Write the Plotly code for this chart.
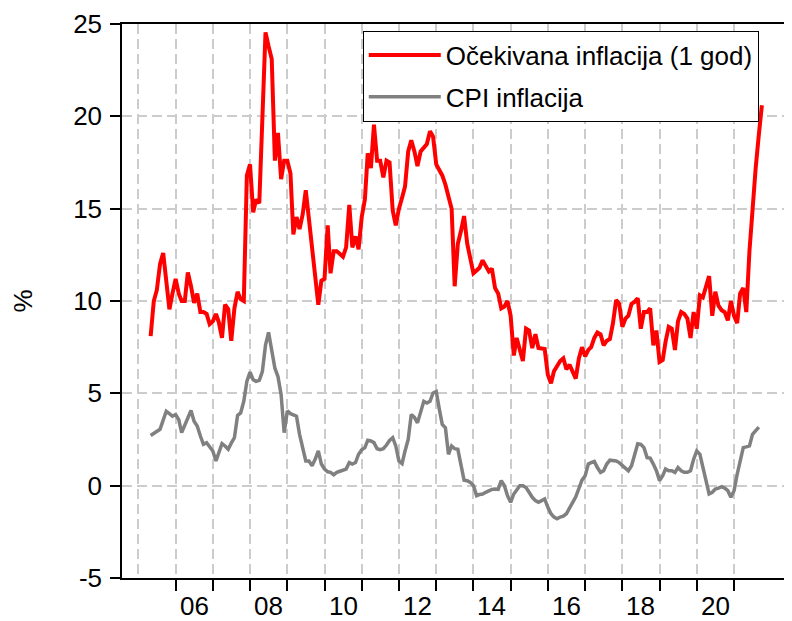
import pandas as pd
import plotly.graph_objects as go

start_month = "2005-05-01"

expected_infl = [
    8.1, 10.0, 10.6, 12.0, 12.6, 11.2, 9.55, 10.4,
    11.2, 10.4, 10.0, 10.0, 11.55, 10.8, 9.9, 10.4, 9.4, 9.4, 9.3, 8.75,
    8.9, 9.3, 8.85, 8.0, 9.8, 9.55, 7.85, 9.6, 10.5, 10.1, 10.0, 16.8,
    17.4, 14.8, 15.5, 15.3, 20.1, 24.55, 23.8, 23.1, 17.6, 19.1, 16.6, 17.6,
    17.6, 16.9, 13.6, 14.55, 13.9, 14.7, 16.0, 14.4, 12.8, 11.0, 9.8, 11.1,
    11.2, 14.1, 11.5, 12.7, 12.7, 12.55, 12.4, 12.9, 15.2, 12.9, 13.5, 12.8,
    14.55, 15.5, 18.0, 17.2, 19.55, 17.6, 17.6, 16.7, 17.6, 17.5, 14.9, 14.1,
    15.0, 15.6, 16.2, 18.1, 18.7, 18.1, 17.3, 18.1, 18.3, 18.5, 19.2, 18.9,
    17.4, 17.05, 16.8, 16.3, 15.6, 15.0, 10.8, 13.1, 13.8, 14.6, 13.1, 12.4,
    11.5, 11.65, 11.8, 12.2, 11.95, 11.6, 11.75, 10.7, 10.4, 9.6, 9.7, 10.0,
    9.2, 7.05, 8.0, 7.45, 6.75, 8.5, 8.4, 7.45, 8.2, 7.45, 7.45, 7.4,
    6.0, 5.55, 6.2, 6.45, 6.75, 6.9, 6.3, 6.55, 6.2, 5.8, 6.9, 7.5,
    7.0, 7.35, 7.5, 8.0, 8.3, 8.2, 7.6, 7.85, 7.95, 8.8, 10.05, 9.85,
    8.6, 9.05, 9.2, 9.85, 9.95, 10.15, 8.5, 9.4, 9.4, 9.6, 7.6, 8.4,
    6.7, 6.8, 7.8, 8.6, 8.5, 7.35, 8.9, 9.4, 9.3, 9.05, 8.0, 9.4,
    8.5, 10.3, 10.2, 10.7, 11.35, 9.2, 10.5, 9.75, 9.5, 9.4, 8.95, 10.0,
    9.2, 8.8, 10.4, 10.7, 9.4, 12.7, 15.2, 17.2, 19.0, 20.6,
]

cpi_infl = [
    2.72, 2.85, 2.95, 3.05, 3.55, 4.03, 3.9, 3.76,
    3.85, 3.58, 2.87, 3.3, 3.76, 4.07, 3.49, 3.23, 2.69, 2.24, 2.33, 2.1,
    1.88, 1.34, 1.79, 2.28, 2.15, 1.97, 2.3, 2.6, 3.8, 3.94, 4.57, 5.65,
    6.15, 5.74, 5.65, 5.7, 6.18, 7.62, 8.3, 7.44, 6.36, 5.91, 4.93, 2.87,
    4.05, 3.9, 3.85, 3.76, 2.78, 2.06, 1.34, 1.34, 1.08, 1.43, 1.88, 1.17,
    0.9, 0.75, 0.72, 0.59, 0.72, 0.78, 0.84, 0.9, 1.25, 1.17, 1.25, 1.7,
    1.95, 2.06, 2.46, 2.42, 2.33, 2.0, 1.95, 2.0, 2.2, 2.45, 2.6, 2.15,
    1.34, 1.2, 1.88, 2.51, 3.85, 3.7, 3.4, 4.03, 4.57, 4.48, 4.57, 5.02,
    5.1, 4.12, 3.32, 3.14, 1.7, 2.15, 2.0, 1.97, 1.17, 0.3, 0.27, 0.18,
    0.0, -0.54, -0.48, -0.45, -0.36, -0.27, -0.2, -0.18, -0.2, 0.27, 0.0, -0.54,
    -0.9, -0.45, -0.2, 0.0, 0.0, -0.1, -0.36, -0.63, -0.81, -0.9, -0.81, -0.72,
    -1.17, -1.52, -1.7, -1.79, -1.7, -1.65, -1.52, -1.17, -0.9, -0.6, -0.2, 0.3,
    0.54, 1.17, 1.25, 1.31, 0.98, 0.72, 0.81, 1.17, 1.38, 1.36, 1.34, 1.25,
    1.08, 0.9, 0.81, 1.08, 1.61, 2.27, 2.24, 2.06, 1.52, 1.49, 1.17, 0.81,
    0.27, 0.54, 0.9, 0.81, 0.81, 0.72, 0.98, 0.81, 0.72, 0.72, 0.81, 1.43,
    1.88, 1.7, 1.0, 0.2, -0.45, -0.36, -0.18, -0.13, -0.05, -0.13, -0.27, -0.63,
    -0.27, 0.63, 1.4, 2.06, 2.1, 2.15, 2.78, 3.0, 3.17,
]

series_names = ["Očekivana inflacija (1 god)", "CPI inflacija"]
grid_years = list(range(2005, 2022))
tick_years = list(range(2006, 2022))
label_years = list(range(2006, 2021, 2))
label_texts = ["06", "08", "10", "12", "14", "16", "18", "20"]
y_ticks = [-5, 0, 5, 10, 15, 20, 25]
y_tick_texts = ["-5", "0", "5", "10", "15", "20", "25"]

dates_exp = pd.date_range(start_month, periods=len(expected_infl), freq="MS")
dates_cpi = pd.date_range(start_month, periods=len(cpi_infl), freq="MS")

FONT = "Liberation Sans, Arial, sans-serif"
FS = 26
GRID = "#cccccc"
DASH = "10px,5px"

fig = go.Figure()
fig.add_trace(go.Scatter(x=dates_exp, y=expected_infl, mode="lines",
                         name=series_names[0], legendgroup="a",
                         line=dict(color="#ff0000", width=4)))
fig.add_trace(go.Scatter(x=dates_cpi, y=cpi_infl, mode="lines",
                         name=series_names[1], legendgroup="b",
                         line=dict(color="#808080", width=3.5)))

annotations = [
    dict(x=f"{y}-07-02", y=0, xref="x", yref="paper", text=t, showarrow=False,
         yanchor="middle", yshift=-28, borderpad=0,
         font=dict(family=FONT, size=FS, color="black"))
    for y, t in zip(label_years, label_texts)
]

# page body has an 8px default margin, so the figure is sized to fit the window
fig.update_layout(
    width=784, height=613,
    margin=dict(l=114, r=1, t=12, b=43),
    paper_bgcolor="white", plot_bgcolor="white",
    font=dict(family=FONT, size=FS, color="black"),
    showlegend=True,
    legend=dict(x=0.361, y=0.988, xanchor="left", yanchor="top",
                bgcolor="white", bordercolor="black", borderwidth=1,
                font=dict(family=FONT, size=FS, color="black"),
                itemwidth=72,
                traceorder="grouped", tracegroupgap=5),
    annotations=annotations,
    xaxis=dict(
        type="date",
        range=["2004-07-24", "2022-06-24"],
        tickmode="array",
        tickvals=[f"{y}-01-01" for y in tick_years],
        ticktext=["" for _ in tick_years],
        ticks="outside", ticklen=11, tickwidth=1.5, tickcolor="black",
        showgrid=True, gridcolor=GRID, gridwidth=2, griddash=DASH,
        minor=dict(tickmode="array", tickvals=[f"{grid_years[0]}-01-01"],
                   showgrid=True, gridcolor=GRID, gridwidth=2, griddash=DASH,
                   ticks=""),
        showline=True, linecolor="black", linewidth=1.5, mirror=True,
        zeroline=False,
    ),
    yaxis=dict(
        range=[-5, 25],
        tickmode="array", tickvals=y_ticks, ticktext=y_tick_texts,
        ticks="outside", ticklen=10, tickwidth=1.5, tickcolor="black",
        tickfont=dict(family=FONT, size=FS, color="black"),
        ticklabelstandoff=3, ticklabeloverflow="allow",
        showgrid=True, gridcolor=GRID, gridwidth=2, griddash=DASH,
        showline=True, linecolor="black", linewidth=1.5, mirror=True,
        zeroline=False,
        title=dict(text="%", standoff=34, font=dict(family=FONT, size=FS, color="black")),
    ),
)

fig.write_html("out.html")
